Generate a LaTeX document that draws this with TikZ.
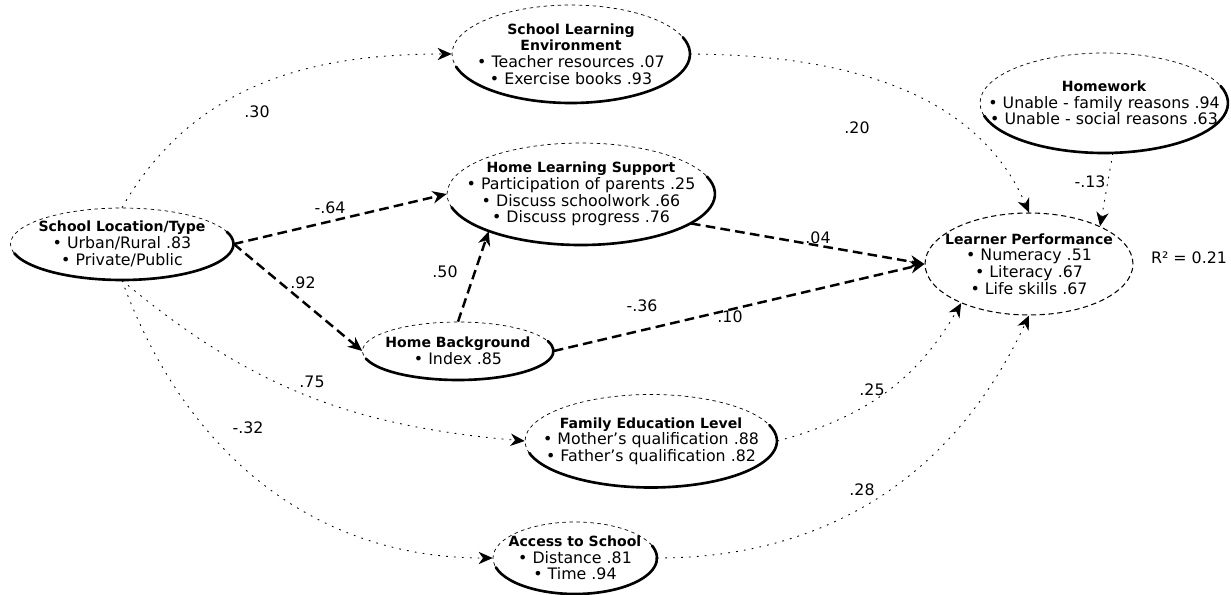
\documentclass[tikz,border=0pt]{standalone}
\usepackage{fontspec}
\setmainfont{DejaVu Sans}
\usetikzlibrary{shapes.geometric,arrows.meta}

\newcommand{\lvhead}[1]{{\fontsize{8}{9.5}\selectfont\bfseries #1}}
\newcommand{\shadearc}[3]{%
  \draw[line width=1.5pt,line cap=round] ([shift={(195:#2 and #3)}]#1.center)
    arc[start angle=195,end angle=380,x radius=#2,y radius=#3];}

\tikzset{
  latent/.style={ellipse, draw, line width=0.4pt, dash pattern=on 2pt off 2pt,
    inner sep=-2cm, align=center, font=\fontsize{9}{9.5}\selectfont},
  direct/.style={line width=1.4pt, dash pattern=on 5.5pt off 3pt,
    -{Stealth[length=8pt,width=7pt,inset=2.5pt]}},
  faint/.style={line width=0.5pt, dash pattern=on 1pt off 3.5pt,
    -{Stealth[length=8pt,width=7pt,inset=2.5pt]}},
  coef/.style={inner sep=1pt, font=\fontsize{9}{10}\selectfont}
}

\begin{document}
\begin{tikzpicture}[x=0.02cm, y=-0.02cm]
  \useasboundingbox (0,0) rectangle (1231,595);

  \node[latent, minimum width=4.46cm, minimum height=1.44cm] (loc) at (122,244)
    {\lvhead{School Location/Type}\\• Urban/Rural .83\\• Private/Public};
  \node[latent, minimum width=4.76cm, minimum height=1.96cm] (sle) at (571,54)
    {\lvhead{School Learning}\\\lvhead{Environment}\\• Teacher resources .07\\• Exercise books .93};
  \node[latent, minimum width=5.36cm, minimum height=2.04cm] (hls) at (581,194)
    {\lvhead{Home Learning Support}\\• Participation of parents .25\\• Discuss schoolwork .66\\• Discuss progress .76};
  \node[latent, minimum width=4.96cm, minimum height=2cm] (hw) at (1104,103)
    {\lvhead{Homework}\\• Unable - family reasons .94\\• Unable - social reasons .63};
  \node[latent, minimum width=4.16cm, minimum height=2.04cm, line width=0.6pt, dash pattern=on 3pt off 2pt] (lp) at (1029,264)
    {\lvhead{Learner Performance}\\• Numeracy .51\\• Literacy .67\\• Life skills .67};
  \node[latent, minimum width=3.82cm, minimum height=1.16cm] (hb) at (458,351)
    {\lvhead{Home Background}\\• Index .85};
  \node[latent, minimum width=5.04cm, minimum height=1.86cm] (fel) at (651,441)
    {\lvhead{Family Education Level}\\• Mother’s qualification .88\\• Father’s qualification .82};
  \node[latent, minimum width=3.28cm, minimum height=1.44cm] (acc) at (575,558)
    {\lvhead{Access to School}\\• Distance .81\\• Time .94};
  \node[coef] (rsq) at (1189,258) {R² = 0.21};

  \shadearc{loc}{2.23cm}{0.72cm}
  \shadearc{sle}{2.38cm}{0.98cm}
  \shadearc{hls}{2.68cm}{1.02cm}
  \shadearc{hw}{2.48cm}{1cm}
  \shadearc{hb}{1.91cm}{0.58cm}
  \shadearc{fel}{2.52cm}{0.93cm}
  \shadearc{acc}{1.64cm}{0.72cm}

  \draw[direct] (loc.east) -- (hls.west);
  \draw[direct] (loc.east) -- (hb.west);
  \draw[direct] (hb.north) -- (hls.202);
  \draw[direct] (hls.-15) -- (lp.west);
  \draw[direct] (hb.east) -- (lp.west);
  \draw[faint] (loc.north) to[out=60,in=180] (sle.west);
  \draw[faint] (sle.east) .. controls (880,55) and (985,110) .. (lp.north);
  \draw[faint] (hw.280) -- (lp.28);
  \draw[faint] (loc.south) to[out=-40,in=175] (fel.west);
  \draw[faint] (loc.south) to[out=-70,in=180] (acc.west);
  \draw[faint] (fel.east) to[out=15,in=240] (lp.210);
  \draw[faint] (acc.east) to[out=0,in=245] (lp.south);

  \node[coef] (c30) at (257,112) {.30};
  \node[coef] (c20) at (857,128) {.20};
  \node[coef] (c64) at (330,208) {-.64};
  \node[coef] (c92) at (303,283) {.92};
  \node[coef] (c50) at (445,272) {.50};
  \node[coef] (c04) at (818,238) {.04};
  \node[coef] (c36) at (642,306) {-.36};
  \node[coef] (c10) at (730,317) {.10};
  \node[coef] (c13) at (1090,182) {-.13};
  \node[coef] (c75) at (312,382) {.75};
  \node[coef] (c32) at (248,428) {-.32};
  \node[coef] (c25) at (872,390) {.25};
  \node[coef] (c28) at (862,490) {.28};
\end{tikzpicture}
\end{document}
